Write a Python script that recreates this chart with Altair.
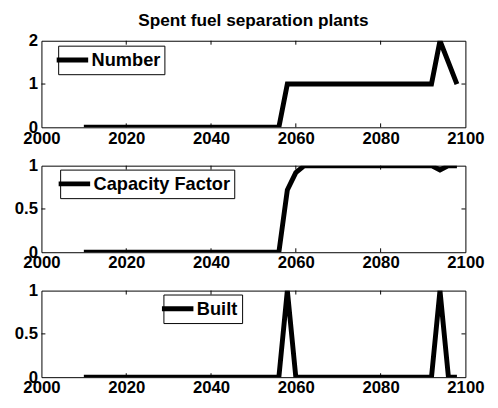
import altair as alt
import pandas as pd

years = [2010, 2012, 2014, 2016, 2018, 2020, 2022, 2024, 2026, 2028,
         2030, 2032, 2034, 2036, 2038, 2040, 2042, 2044, 2046, 2048,
         2050, 2052, 2054, 2056, 2058, 2060, 2062, 2064, 2066, 2068,
         2070, 2072, 2074, 2076, 2078, 2080, 2082, 2084, 2086, 2088,
         2090, 2092, 2094, 2096, 2098]

number = [0, 0, 0, 0, 0, 0, 0, 0, 0, 0,
          0, 0, 0, 0, 0, 0, 0, 0, 0, 0,
          0, 0, 0, 0, 1, 1, 1, 1, 1, 1,
          1, 1, 1, 1, 1, 1, 1, 1, 1, 1,
          1, 1, 2, 1.5, 1]

capacity = [0, 0, 0, 0, 0, 0, 0, 0, 0, 0,
            0, 0, 0, 0, 0, 0, 0, 0, 0, 0,
            0, 0, 0, 0, 0.72, 0.92, 1, 1, 1, 1,
            1, 1, 1, 1, 1, 1, 1, 1, 1, 1,
            1, 1, 0.95, 1, 1]

built = [0, 0, 0, 0, 0, 0, 0, 0, 0, 0,
         0, 0, 0, 0, 0, 0, 0, 0, 0, 0,
         0, 0, 0, 0, 1, 0, 0, 0, 0, 0,
         0, 0, 0, 0, 0, 0, 0, 0, 0, 0,
         0, 0, 1, 0, 0]

x_ticks = [2000, 2020, 2040, 2060, 2080, 2100]
x_inner_ticks = [2020, 2040, 2060, 2080]

W = 431
H = 88
FONT = "Liberation Sans"


def panel(values, name, ymax, yticks, y_inner, lx, ly, title=None):
    xs = alt.Scale(domain=[2000, 2100], nice=False, zero=False)
    ys = alt.Scale(domain=[0, ymax], nice=False)
    xaxis = alt.Axis(values=x_ticks, format="d", title=None, tickSize=0, domain=False,
                     labelFlush=False, labelOverlap=False, labelPadding=3, grid=False)
    yaxis = alt.Axis(values=yticks, format="~g", title=None, tickSize=0, domain=False,
                     labelFlush=False, labelOverlap=False, labelPadding=4, grid=False)
    df = pd.DataFrame({"year": years, "value": values, "series": name})
    line = alt.Chart(df).mark_line(color="black", strokeWidth=5, clip=True).encode(
        x=alt.X("year:Q", scale=xs, axis=xaxis),
        y=alt.Y("value:Q", scale=ys, axis=yaxis),
        color=alt.Color("series:N", scale=alt.Scale(range=["black"]),
                        legend=alt.Legend(title=None, orient="none",
                                          legendX=lx, legendY=ly)),
    )
    xt = pd.DataFrame({"t": x_inner_ticks})
    yt = pd.DataFrame({"v": y_inner})
    tb = alt.Chart(xt).mark_rule(color="black").encode(
        x=alt.X("t:Q", scale=xs, axis=xaxis), y=alt.value(H - 4), y2=alt.value(H))
    tt = alt.Chart(xt).mark_rule(color="black").encode(
        x=alt.X("t:Q", scale=xs, axis=xaxis), y=alt.value(0), y2=alt.value(4))
    tl = alt.Chart(yt).mark_rule(color="black").encode(
        y=alt.Y("v:Q", scale=ys, axis=yaxis), x=alt.value(0), x2=alt.value(4))
    tr = alt.Chart(yt).mark_rule(color="black").encode(
        y=alt.Y("v:Q", scale=ys, axis=yaxis), x=alt.value(W - 4), x2=alt.value(W))
    ch = alt.layer(line, tb, tt, tl, tr).properties(width=W, height=H)
    if title:
        ch = ch.properties(title=alt.TitleParams(
            title, fontSize=17.5, fontWeight="bold", font=FONT, anchor="middle",
            frame="group", offset=2, color="black"))
    return ch


p1 = panel(number, "Number", 2, [0, 1, 2], [1], 17, 5,
           title="Spent fuel separation plants")
p2 = panel(capacity, "Capacity Factor", 1, [0, 0.5, 1], [0.5], 19, 4)
p3 = panel(built, "Built", 1, [0, 0.5, 1], [0.5], 124, 4)

chart = alt.vconcat(p1, p2, p3, spacing=39, bounds="flush").resolve_scale(
    color="independent").resolve_legend(color="independent").configure_view(
    stroke="black", strokeWidth=1).configure_axis(
    labelFont=FONT, labelFontSize=17, labelFontWeight="bold", labelColor="black"
).configure_legend(
    symbolType="M-2,0H2", symbolStrokeWidth=5, symbolSize=256,
    labelFont=FONT, labelFontSize=18.5, labelFontWeight="bold", labelColor="black",
    strokeColor="black", fillColor="white", padding=4, labelOffset=9,
    cornerRadius=0
).properties(background="white",
             padding={"top": 1, "left": 5, "right": 5, "bottom": 5})

chart.save("out.html", embed_options={"renderer": "svg", "actions": False})
